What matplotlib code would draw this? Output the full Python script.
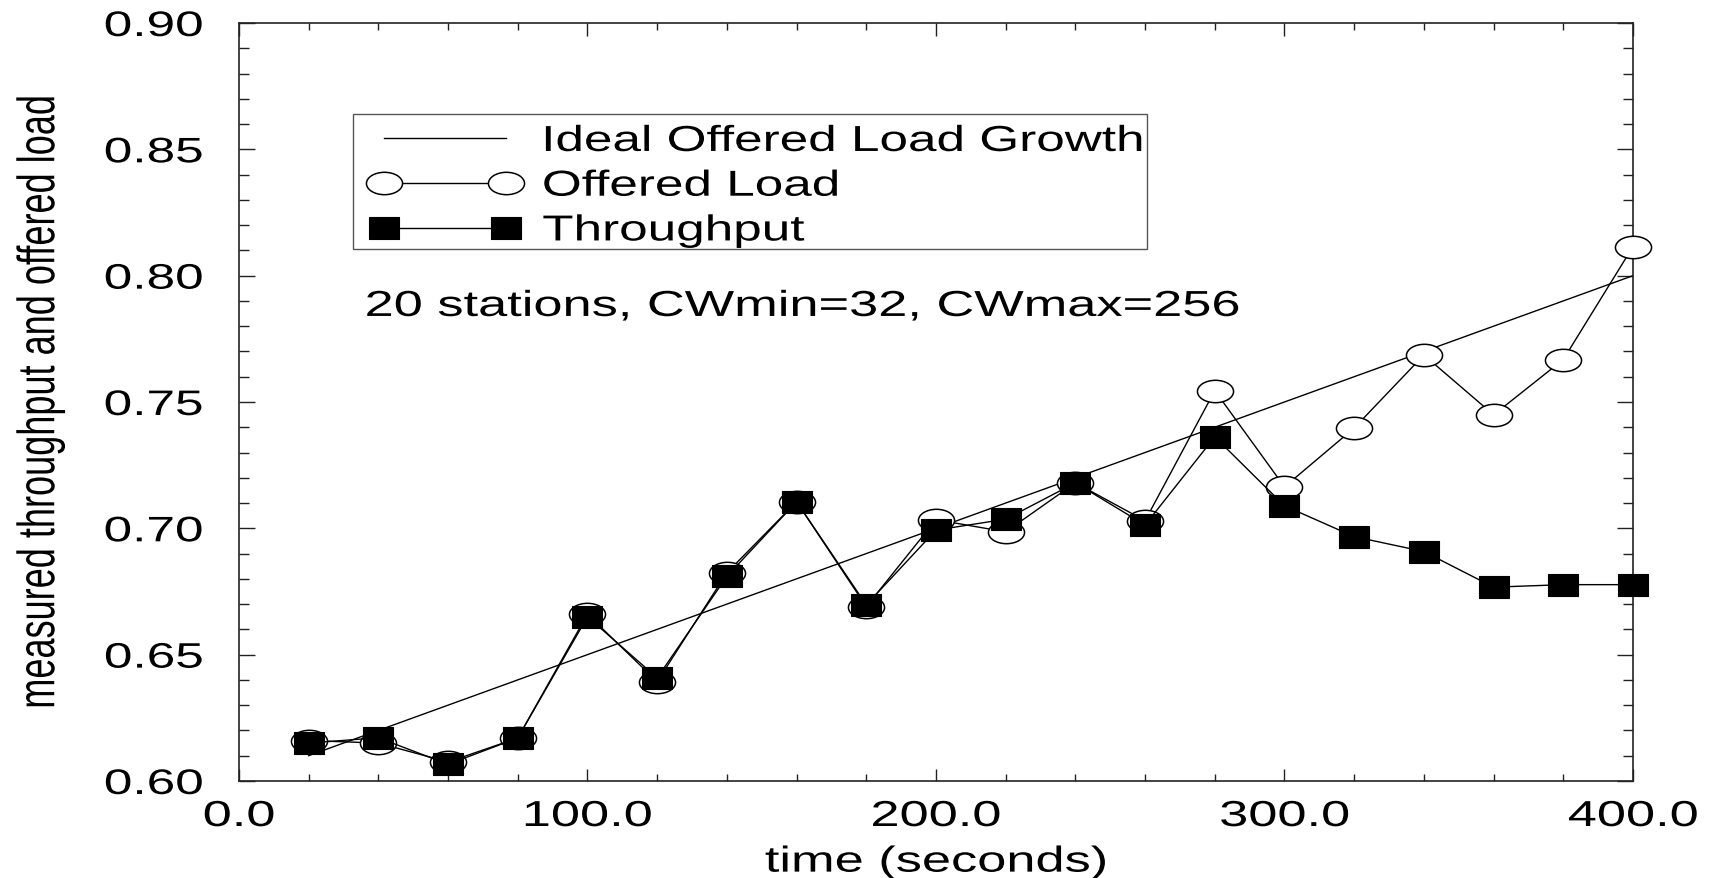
import numpy as np
import matplotlib
matplotlib.use("Agg")
import matplotlib.pyplot as plt
from matplotlib.path import Path
from matplotlib.lines import Line2D
from matplotlib.patches import Rectangle
from matplotlib.patheffects import AbstractPathEffect
from matplotlib.transforms import Affine2D
from matplotlib.ticker import MultipleLocator
from matplotlib.legend_handler import HandlerLine2D

# ---------------- data ----------------
time_s = [20, 40, 60, 80, 100, 120, 140, 160, 180, 200,
          220, 240, 260, 280, 300, 320, 340, 360, 380, 400]
offered_load = [0.616, 0.615, 0.6075, 0.617, 0.666, 0.6393, 0.6824, 0.7105, 0.669, 0.7034,
                0.6986, 0.718, 0.703, 0.7545, 0.7164, 0.7397, 0.7686, 0.7449, 0.7668, 0.8115]
throughput = [0.615, 0.6171, 0.6066, 0.617, 0.665, 0.6408, 0.681, 0.7105, 0.6697, 0.6993,
              0.7036, 0.718, 0.7013, 0.7362, 0.7089, 0.6967, 0.6908, 0.6767, 0.6777, 0.6777]
ideal_time = [20, 400]
ideal_load = [0.61, 0.80]

x_ticks = [0, 100, 200, 300, 400]
x_tick_labels = ["0.0", "100.0", "200.0", "300.0", "400.0"]
y_ticks = [0.60, 0.65, 0.70, 0.75, 0.80, 0.85, 0.90]
y_tick_labels = ["0.60", "0.65", "0.70", "0.75", "0.80", "0.85", "0.90"]

series_labels = ["Ideal Offered Load Growth", "Offered Load", "Throughput"]
annotation = "20 stations, CWmin=32, CWmax=256"
x_label = "time (seconds)"
y_label = "measured throughput and offered load"

plt.rcParams['font.family'] = ['Liberation Sans', 'DejaVu Sans']

STRETCH = 1.45


class HStretch(AbstractPathEffect):
    """Render text stretched horizontally (the reference is a wide-scaled scan)."""

    def __init__(self, sx, anchor="center"):
        super().__init__()
        self.sx = sx
        self.anchor = anchor

    def draw_path(self, renderer, gc, tpath, affine, rgbFace=None):
        ext = tpath.get_extents(affine)
        if self.anchor == "left":
            cx = ext.x0
        elif self.anchor == "right":
            cx = ext.x1
        else:
            cx = 0.5 * (ext.x0 + ext.x1)
        t = affine + Affine2D().translate(-cx, 0).scale(self.sx, 1.0).translate(cx, 0)
        renderer.draw_path(gc, tpath, t, rgbFace)


# wide markers (ellipse and flat rectangle), as in the stretched original
ellipse = Path.unit_circle().transformed(Affine2D().scale(1.0, 0.62))
rect = Path([(-1, -0.69), (1, -0.69), (1, 0.69), (-1, 0.69), (-1, -0.69)], closed=True)

fig = plt.figure(figsize=(17.13, 8.79), dpi=100)
ax = fig.add_axes([0.1395, 0.1104, 0.8138, 0.8623])

ax.plot(ideal_time, ideal_load, color="black", lw=1.0,
        label=series_labels[0], zorder=2)
ax.plot(time_s, offered_load, color="black", lw=1.0, marker=ellipse, ms=26,
        mfc="white", mec="black", mew=1.1, label=series_labels[1], zorder=3,
        clip_on=False)
ax.plot(time_s, throughput, color="black", lw=1.0, marker=rect, ms=22,
        mfc="black", mec="black", mew=0.8, label=series_labels[2], zorder=4,
        clip_on=False)

ax.set_xlim(0, 400)
ax.set_ylim(0.60, 0.90)
ax.set_xticks(x_ticks)
ax.set_xticklabels(x_tick_labels)
ax.set_yticks(y_ticks)
ax.set_yticklabels(y_tick_labels)
ax.xaxis.set_minor_locator(MultipleLocator(20))
ax.yaxis.set_minor_locator(MultipleLocator(0.01))

ax.tick_params(which="both", direction="in", top=True, right=True,
               width=1.0, color="#222222")
ax.tick_params(axis="x", which="major", length=9, pad=13, labelsize=26)
ax.tick_params(axis="x", which="minor", length=5)
ax.tick_params(axis="y", which="major", length=11.5, pad=26, labelsize=25.5)
ax.tick_params(axis="y", which="minor", length=7)

for s in ax.spines.values():
    s.set_linewidth(1.2)
    s.set_color("#222222")

for lbl in ax.get_xticklabels():
    lbl.set_path_effects([HStretch(STRETCH, "center")])
for lbl in ax.get_yticklabels():
    lbl.set_path_effects([HStretch(STRETCH, "right")])

ax.set_xlabel(x_label, fontsize=26)
ax.xaxis.set_label_coords(0.5, -0.084)
ax.xaxis.label.set_path_effects([HStretch(STRETCH, "center")])

ax.set_ylabel(y_label, fontsize=26)
ax.yaxis.set_label_coords(-0.1298, 0.5)
ax.yaxis.label.set_path_effects([HStretch(STRETCH, "center")])

ax.text(0.0907, 0.6135, annotation, transform=ax.transAxes, fontsize=26,
        ha="left", va="baseline",
        path_effects=[HStretch(STRETCH, "left")])

# legend frame (drawn separately so the entries can sit where they do in the original)
ax.add_patch(Rectangle((0.0818, 0.7018), 0.5696, 0.1782, transform=ax.transAxes,
                       facecolor="white", edgecolor="#555555", lw=1.0, zorder=4.9))

leg = ax.legend(loc="upper left", bbox_to_anchor=(0.0849, 0.7668, 0.56, 0.10),
                mode="expand", borderaxespad=0, fontsize=26, frameon=False,
                borderpad=0.0, labelspacing=0.27,
                handlelength=4.86, handletextpad=0.27, numpoints=2,
                handler_map={Line2D: HandlerLine2D(marker_pad=0.74)})
leg.set_zorder(5)
for t in leg.get_texts():
    t.set_path_effects([HStretch(1.42, "left")])

fig.savefig("out.png", dpi=100)
